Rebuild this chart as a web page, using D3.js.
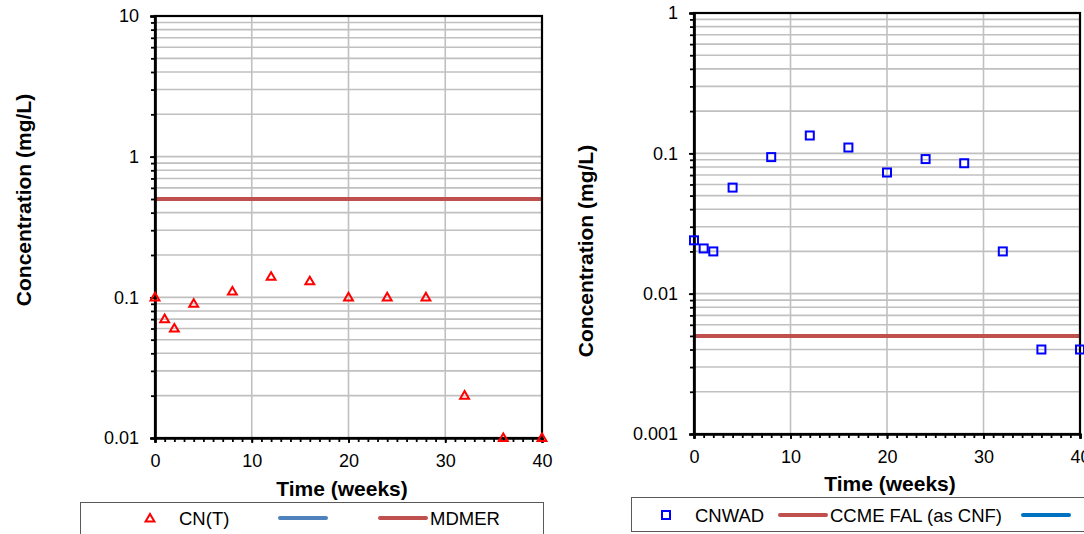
<!DOCTYPE html>
<html><head><meta charset="utf-8">
<script src="https://cdn.jsdelivr.net/npm/d3@7"></script>
<style>
body{margin:0;background:#fff;}
svg{display:block;font-family:"Liberation Sans",Arial,sans-serif;}
</style></head>
<body><svg id="c" width="1084" height="534"></svg>
<script>
const weeks = [0,1,2,4,8,12,16,20,24,28,32,36,40];
const cnT = [0.1,0.07,0.06,0.09,0.11,0.14,0.13,0.1,0.1,0.1,0.02,0.01,0.01];
const cnwad = [0.024,0.021,0.020,0.057,0.094,0.134,0.11,0.073,0.091,0.085,0.020,0.004,0.004];
const mdmer = 0.5;
const ccmeFal = 0.005;
const xTickVals = [0,10,20,30,40];
const xTickLabels = ["0","10","20","30","40"];
const leftYTicks = [0.01,0.1,1,10];
const leftYLabels = ["0.01","0.1","1","10"];
const rightYTicks = [0.001,0.01,0.1,1];
const rightYLabels = ["0.001","0.01","0.1","1"];
const leftLegend = ["CN(T)","","MDMER"];
const rightLegend = ["CNWAD","CCME FAL (as CNF)",""];

const svg = d3.select("#c");
const GRID="#c0c0c0", RED="#c0504d";

function minorVals(dom){
  const out=[];
  for(let e=Math.round(Math.log10(dom[0])); e<Math.round(Math.log10(dom[1])); e++){
    for(let m=1;m<=9;m++) out.push(m*Math.pow(10,e));
  }
  out.push(dom[1]);
  return out;
}

function panel(o){
  const x=d3.scaleLinear().domain([0,40]).range([o.x0,o.x1]);
  const y=d3.scaleLog().domain(o.ydom).range([o.y0,o.y1]);
  const g=svg.append("g");
  const mv=minorVals(o.ydom);
  // horizontal grid
  g.selectAll(".hg").data(mv.filter(v=>v>o.ydom[0]*1.0001)).join("line")
    .attr("x1",o.x0).attr("x2",o.x1).attr("y1",d=>y(d)).attr("y2",d=>y(d))
    .attr("stroke",GRID).attr("stroke-width",1.6);
  g.selectAll(".vg").data([10,20,30]).join("line")
    .attr("x1",d=>x(d)).attr("x2",d=>x(d)).attr("y1",o.y0).attr("y2",o.y1)
    .attr("stroke",GRID).attr("stroke-width",1.6);
  // threshold line
  g.append("line").attr("x1",x(0)).attr("x2",x(40)).attr("y1",y(o.thr)).attr("y2",y(o.thr))
    .attr("stroke",RED).attr("stroke-width",4);
  // frame
  g.append("rect").attr("x",o.x0).attr("y",o.y1).attr("width",o.x1-o.x0).attr("height",o.y0-o.y1)
    .attr("fill","none").attr("stroke","#000").attr("stroke-width",2.2);
  // minor ticks
  const ym=g.append("g").attr("transform",`translate(${o.x0},0)`)
    .call(d3.axisLeft(y).tickValues(mv).tickFormat("").tickSize(4));
  const yM=g.append("g").attr("transform",`translate(${o.x0},0)`)
    .call(d3.axisLeft(y).tickValues(o.yt).tickFormat((d,i)=>o.yl[i]).tickSize(5).tickPadding(11));
  const xm=g.append("g").attr("transform",`translate(0,${o.y0})`)
    .call(d3.axisBottom(x).tickValues(d3.range(0,41,1)).tickFormat("").tickSize(4));
  const xM=g.append("g").attr("transform",`translate(0,${o.y0})`)
    .call(d3.axisBottom(x).tickValues(xTickVals).tickFormat((d,i)=>xTickLabels[i]).tickSize(5).tickPadding(11));
  [ym,yM,xm,xM].forEach(a=>{
    a.select(".domain").attr("stroke","#000").attr("stroke-width",2.2);
    a.selectAll(".tick line").attr("stroke","#000").attr("stroke-width",1.8);
    a.selectAll(".tick text").attr("font-size",18).attr("fill","#000").attr("font-family","Liberation Sans, Arial, sans-serif");
  });
  // points
  const pts=weeks.map((w,i)=>({w,v:o.vals[i]}));
  if(o.marker==="tri"){
    g.selectAll(".pt").data(pts).join("path")
      .attr("d",d3.symbol().type(d3.symbolTriangle).size(34))
      .attr("transform",d=>`translate(${x(d.w)},${y(d.v)+0.5})`)
      .attr("fill","none").attr("stroke","#ff0000").attr("stroke-width",2);
  } else {
    g.selectAll(".pt").data(pts).join("rect")
      .attr("x",d=>x(d.w)-4).attr("y",d=>y(d.v)-4).attr("width",8).attr("height",8)
      .attr("fill","none").attr("stroke","#0000ff").attr("stroke-width",2);
  }
  // titles
  g.append("text").attr("transform",`translate(${o.ytx},${o.yty}) rotate(-90)`)
    .attr("text-anchor","middle").attr("font-weight","bold").attr("font-size",21).text("Concentration (mg/L)");
  g.append("text").attr("x",o.xtx).attr("y",o.xty)
    .attr("text-anchor","middle").attr("font-weight","bold").attr("font-size",21).text("Time (weeks)");
}

panel({x0:155,x1:542,y0:438,y1:16,ydom:[0.01,10],yt:leftYTicks,yl:leftYLabels,
  vals:cnT,thr:mdmer,marker:"tri",ytx:31,yty:200,xtx:342,xty:496});
panel({x0:694,x1:1080,y0:434,y1:13,ydom:[0.001,1],yt:rightYTicks,yl:rightYLabels,
  vals:cnwad,thr:ccmeFal,marker:"sq",ytx:593,yty:251,xtx:890,xty:491});

// legends
const L=svg.append("g");
L.append("rect").attr("x",80.5).attr("y",502.5).attr("width",463).attr("height",40)
  .attr("fill","#fff").attr("stroke","#595959").attr("stroke-width",1);
L.append("path").attr("d",d3.symbol().type(d3.symbolTriangle).size(34))
  .attr("transform","translate(150,519)").attr("fill","none").attr("stroke","#ff0000").attr("stroke-width",2);
L.append("text").attr("x",179).attr("y",524.5).attr("font-size",18.5).text(leftLegend[0]);
L.append("line").attr("x1",280).attr("x2",326).attr("y1",518).attr("y2",518)
  .attr("stroke","#4f81bd").attr("stroke-width",4).attr("stroke-linecap","round");
L.append("line").attr("x1",380).attr("x2",426).attr("y1",518).attr("y2",518)
  .attr("stroke",RED).attr("stroke-width",4).attr("stroke-linecap","round");
L.append("text").attr("x",430).attr("y",524.5).attr("font-size",18.5).text(leftLegend[2]);

const R=svg.append("g");
R.append("rect").attr("x",631.5).attr("y",497.5).attr("width",470).attr("height",34)
  .attr("fill","#fff").attr("stroke","#595959").attr("stroke-width",1);
R.append("rect").attr("x",662).attr("y",511).attr("width",8).attr("height",8)
  .attr("fill","none").attr("stroke","#0000ff").attr("stroke-width",2);
R.append("text").attr("x",695).attr("y",521.5).attr("font-size",18.5).text(rightLegend[0]);
R.append("line").attr("x1",780).attr("x2",826).attr("y1",515).attr("y2",515)
  .attr("stroke",RED).attr("stroke-width",4).attr("stroke-linecap","round");
R.append("text").attr("x",830).attr("y",521.5).attr("font-size",18.5).text(rightLegend[1]);
R.append("line").attr("x1",1023).attr("x2",1069).attr("y1",515).attr("y2",515)
  .attr("stroke","#0070c0").attr("stroke-width",4).attr("stroke-linecap","round");
</script></body></html>
